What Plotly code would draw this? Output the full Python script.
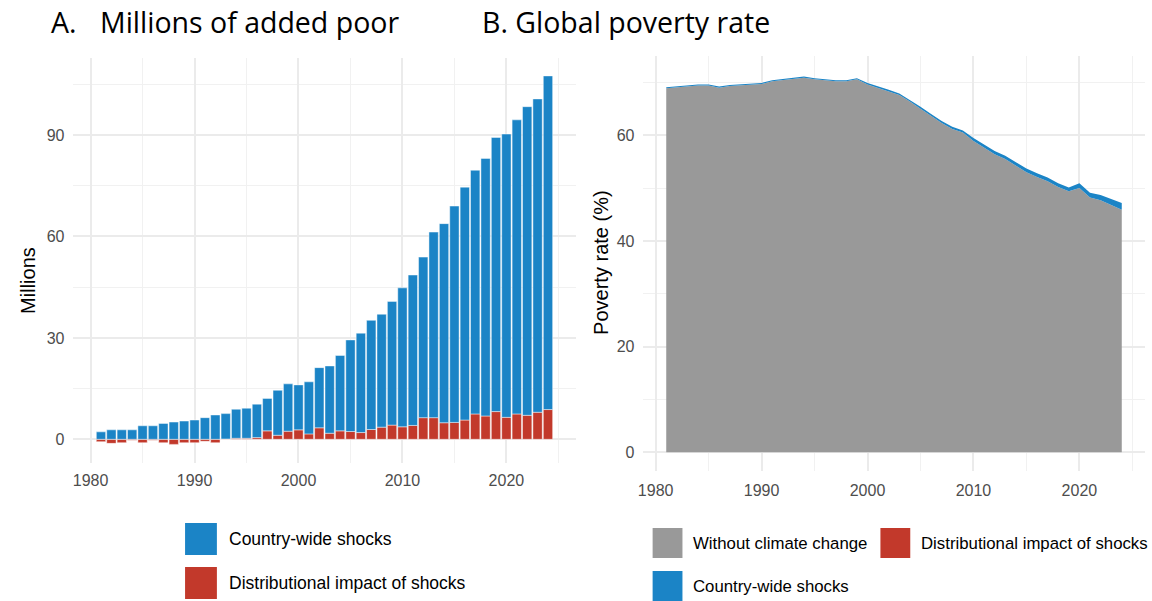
import plotly.graph_objects as go

# ---------------- Panel A data (millions of added poor) ----------------
years_a = list(range(1981, 2025))
country_a = [2.2, 2.8, 2.8, 2.8, 4.0, 4.0, 4.7, 5.1, 5.4, 5.7,
             6.4, 7.2, 7.5, 8.6, 8.9, 9.9, 9.6, 13.3, 14.0, 13.3,
             15.4, 17.8, 19.9, 22.3, 27.1, 29.4, 32.3, 33.4, 36.6, 41.1,
             44.5, 47.5, 54.9, 58.9, 64.0, 68.9, 72.1, 76.2, 81.1, 83.8,
             87.0, 91.3, 92.7, 98.7]
dist_a = [-0.7, -1.2, -1.0, -0.3, -1.0, -0.3, -1.0, -1.5, -1.0, -1.0,
          -0.6, -1.0, 0.1, 0.3, 0.3, 0.5, 2.5, 1.2, 2.4, 2.8,
          1.6, 3.4, 1.8, 2.5, 2.3, 2.0, 2.9, 3.6, 4.2, 3.7,
          4.1, 6.4, 6.4, 4.9, 5.0, 5.7, 7.5, 6.9, 8.2, 6.5,
          7.5, 7.1, 8.0, 8.8]

# ---------------- Panel B data (global poverty rate, %) ----------------
years_b = list(range(1981, 2025))
base_b = [68.9, 69.1, 69.3, 69.4, 69.4, 69.0, 69.3, 69.4, 69.5, 69.7,
          70.2, 70.4, 70.7, 70.9, 70.6, 70.4, 70.2, 70.2, 70.6, 69.6,
          69.0, 68.3, 67.6, 66.4, 65.0, 63.6, 62.3, 61.2, 60.5, 58.9,
          57.7, 56.4, 55.5, 54.3, 53.0, 52.1, 51.3, 50.2, 49.4, 50.0,
          48.2, 47.7, 46.8, 45.9]
dist_b = [0.0, 0.0, 0.0, 0.0, 0.0, 0.0, 0.0, 0.0, 0.0, 0.0,
          0.0, 0.0, 0.0, 0.0, 0.0, 0.0, 0.0, 0.0, 0.0, 0.0,
          0.0, 0.0, 0.0, 0.0, 0.0, 0.0, 0.0, 0.0, 0.0, 0.0,
          0.0, 0.0, 0.0, 0.0, 0.0, 0.0, 0.0, 0.0, 0.0, 0.0,
          0.0, 0.0, 0.0, 0.0]
country_b = [0.2, 0.2, 0.2, 0.2, 0.2, 0.2, 0.2, 0.2, 0.2, 0.2,
             0.2, 0.2, 0.2, 0.2, 0.2, 0.2, 0.2, 0.2, 0.2, 0.3,
             0.3, 0.3, 0.3, 0.3, 0.4, 0.4, 0.4, 0.4, 0.4, 0.6,
             0.6, 0.6, 0.6, 0.6, 0.7, 0.7, 0.7, 0.7, 0.7, 0.9,
             0.9, 1.0, 1.1, 1.3]

ticks_a_y = [0, 30, 60, 90]
ticks_b_y = [0, 20, 40, 60]
ticks_x = [1980, 1990, 2000, 2010, 2020]

BLUE = "#1B84C6"
RED = "#C2392B"
GREY = "#999999"
GRID = "#EBEBEB"
GRID_MINOR = "#F1F1F1"
TICKCOL = "#4D4D4D"
FONT = "Liberation Sans, Arial, sans-serif"
W, H = 1152, 601

fig = go.Figure()

fig.add_trace(go.Bar(
    x=years_a, y=dist_a, name="Distributional impact of shocks",
    marker=dict(color=RED, line=dict(color="rgba(255,255,255,0.45)", width=1)),
    width=0.9, xaxis="x", yaxis="y", showlegend=False))
fig.add_trace(go.Bar(
    x=years_a, y=country_a, name="Country-wide shocks",
    marker=dict(color=BLUE, line=dict(color="rgba(255,255,255,0.45)", width=1)),
    width=0.9, xaxis="x", yaxis="y", showlegend=False))

fig.add_trace(go.Scatter(
    x=years_b, y=base_b, name="Without climate change", stackgroup="b",
    mode="lines", line=dict(width=0, color=GREY), fillcolor=GREY,
    xaxis="x2", yaxis="y2", showlegend=False))
fig.add_trace(go.Scatter(
    x=years_b, y=dist_b, name="Distributional impact of shocks", stackgroup="b",
    mode="lines", line=dict(width=0, color=RED), fillcolor=RED,
    xaxis="x2", yaxis="y2", showlegend=False))
fig.add_trace(go.Scatter(
    x=years_b, y=country_b, name="Country-wide shocks", stackgroup="b",
    mode="lines", line=dict(width=0, color=BLUE), fillcolor=BLUE,
    xaxis="x2", yaxis="y2", showlegend=False))


def px_x(p):
    return p / W


def px_y(p):
    return 1 - p / H


axis_common = dict(
    showline=False, zeroline=False, ticks="",
    gridcolor=GRID, gridwidth=1.5,
    tickfont=dict(family=FONT, size=16, color=TICKCOL),
)

fig.update_layout(
    width=W, height=H,
    margin=dict(l=0, r=0, t=0, b=0),
    paper_bgcolor="white", plot_bgcolor="white",
    barmode="relative", bargap=0.1,
    showlegend=False,
    font=dict(family=FONT),
    xaxis=dict(domain=[px_x(67.8), px_x(572.5)], range=[1978.35, 2026.65],
               tickvals=ticks_x, anchor="y",
               minor=dict(dtick=5, tick0=1980, showgrid=True, gridcolor=GRID_MINOR, gridwidth=1),
               ticklabelstandoff=6, **axis_common),
    yaxis=dict(domain=[px_y(462.8), px_y(57.5)], range=[-6.95, 112.95],
               tickvals=ticks_a_y, anchor="x",
               minor=dict(dtick=15, tick0=0, showgrid=True, gridcolor=GRID_MINOR, gridwidth=1),
               ticklabelstandoff=8, **axis_common),
    xaxis2=dict(domain=[px_x(640.8), px_x(1144.5)], range=[1978.85, 2026.15],
                tickvals=ticks_x, anchor="y2",
                minor=dict(dtick=5, tick0=1980, showgrid=True, gridcolor=GRID_MINOR, gridwidth=1),
                ticklabelstandoff=8, **axis_common),
    yaxis2=dict(domain=[px_y(471.2), px_y(55.6)], range=[-3.57, 75.07],
                tickvals=ticks_b_y, anchor="x2",
                minor=dict(dtick=10, tick0=0, showgrid=True, gridcolor=GRID_MINOR, gridwidth=1),
                ticklabelstandoff=8, **axis_common),
)

annotations = []
shapes = []

# Panel titles
TITLE_FONT = dict(family="Open Sans, Noto Sans, sans-serif", size=28.5, color="black")
annotations.append(dict(text="A.", x=px_x(43), y=px_y(22), xref="paper", yref="paper",
                        xanchor="left", yanchor="middle", showarrow=False, font=TITLE_FONT))
annotations.append(dict(text="Millions of added poor", x=px_x(92), y=px_y(22), xref="paper",
                        yref="paper", xanchor="left", yanchor="middle", showarrow=False,
                        font=TITLE_FONT))
annotations.append(dict(text="B. Global poverty rate", x=px_x(476), y=px_y(22), xref="paper",
                        yref="paper", xanchor="left", yanchor="middle", showarrow=False,
                        font=TITLE_FONT))

# Axis titles
annotations.append(dict(text="Millions", x=px_x(22), y=px_y(280), xref="paper", yref="paper",
                        textangle=-90, showarrow=False, xanchor="center", yanchor="middle",
                        font=dict(family=FONT, size=20, color="black")))
annotations.append(dict(text="Poverty rate (%)", x=px_x(598), y=px_y(263), xref="paper",
                        yref="paper", textangle=-90, showarrow=False, xanchor="center",
                        yanchor="middle", font=dict(family=FONT, size=20, color="black")))


def legend_item(x0, yc, color, label, size, fsize, gap):
    shapes.append(dict(type="rect", xref="paper", yref="paper",
                       x0=px_x(x0), x1=px_x(x0 + size),
                       y0=px_y(yc + size / 2), y1=px_y(yc - size / 2),
                       fillcolor=color, line=dict(width=0)))
    annotations.append(dict(text=label, x=px_x(x0 + size + gap), y=px_y(yc), xref="paper",
                            yref="paper", xanchor="left", yanchor="middle", showarrow=False,
                            font=dict(family=FONT, size=fsize, color="black")))


legend_item(180, 539, BLUE, "Country-wide shocks", 32, 17.5, 10)
legend_item(180, 583, RED, "Distributional impact of shocks", 32, 17.5, 10)
legend_item(650, 543, GREY, "Without climate change", 30, 16.8, 9)
legend_item(879, 543, RED, "Distributional impact of shocks", 30, 16.8, 9)
legend_item(650, 586, BLUE, "Country-wide shocks", 30, 16.8, 9)

fig.update_layout(annotations=annotations, shapes=shapes)

fig.write_html("out.html")
